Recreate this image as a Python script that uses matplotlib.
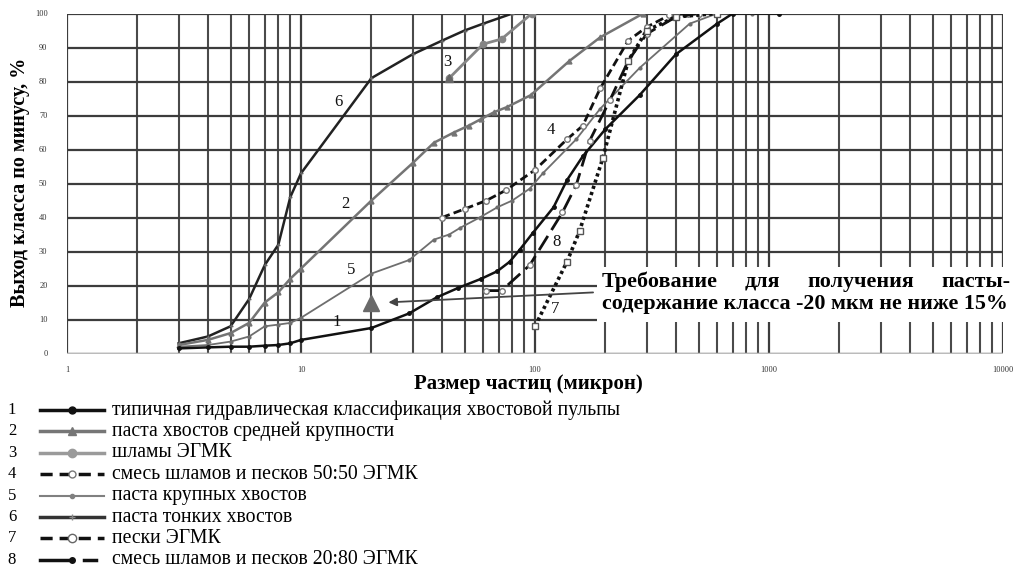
import matplotlib
matplotlib.use("Agg")
import matplotlib.pyplot as plt
from matplotlib.lines import Line2D
from matplotlib.patches import Rectangle
from matplotlib.ticker import LogLocator, FixedLocator, NullFormatter

plt.rcParams['font.family'] = ['Liberation Serif', 'DejaVu Serif']

# particle size (micron) and cumulative passing (%) for each material
size1 = [3, 4, 5, 6, 7, 8, 9, 10, 20, 29, 38, 47, 59, 69, 78, 86, 98, 120, 137, 160, 200, 280, 400, 600, 700, 1100]
pass1 = [1.5, 1.8, 2, 2, 2.3, 2.5, 3, 4, 7.5, 11.8, 16.5, 19.3, 22, 24.2, 27, 30.5, 35.5, 43, 51, 58, 66, 76, 88, 97, 100, 100]

size2 = [3, 4, 5, 6, 7, 8, 9, 10, 20, 30, 37, 45, 52, 59, 67, 76, 96, 140, 190, 290]
pass2 = [2.5, 4, 6, 9, 15, 18, 22, 25, 45, 56, 62, 65, 67, 69, 71, 72.5, 76, 86, 93, 100]

size3 = [43, 60, 72, 97]
pass3 = [81, 91, 92.5, 100]

size4 = [40, 50, 62, 75, 100, 137, 160, 190, 250, 300, 375, 450]
pass4 = [40, 42.5, 45, 48, 54, 63, 67, 78, 92, 96, 99.5, 100]

size5 = [3, 4, 5, 6, 7, 8, 9, 10, 20, 29, 37, 43, 48, 58, 69, 80, 95, 108, 150, 190, 280, 458, 600, 850]
pass5 = [2, 2.5, 3.5, 5, 8, 8.5, 9, 10.5, 23.5, 27.5, 33.5, 35, 37, 40, 43, 45, 48.5, 53, 63, 72, 84, 97, 100, 100]

size6 = [3, 4, 5, 6, 7, 8, 9, 10, 20, 30, 40, 50, 60, 80]
pass6 = [3, 5, 8, 16, 26, 32, 46, 53, 81, 88, 92, 95, 97, 100]

size7 = [100, 137, 155, 195, 250, 300, 400, 600]
pass7 = [8, 27, 36, 57.5, 86, 95, 99, 100]

size8 = [62, 72, 95, 131, 150, 171, 209, 250, 300, 400, 500]
pass8 = [18.5, 18.5, 26, 41.5, 49.5, 62.5, 74.5, 86, 94, 99, 100]

curve_names = [
    "типичная гидравлическая классификация хвостовой пульпы",
    "паста хвостов средней крупности",
    "шламы ЭГМК",
    "смесь шламов и песков 50:50 ЭГМК",
    "паста крупных хвостов",
    "паста тонких хвостов",
    "пески ЭГМК",
    "смесь шламов и песков 20:80 ЭГМК",
]
# where the curve numbers are written (size, passing)
label_size = [14.2, 15.4, 42, 117, 16.4, 14.5, 122, 124]
label_pass = [9.3, 44, 85.7, 65.7, 24.5, 74, 13.1, 32.8]

req_size, req_pass = 20, 15
req_text1 = ["Требование", "для", "получения", "пасты-"]
req_text2 = "содержание класса -20 мкм не ниже 15%"

W, H = 1016, 569
fig = plt.figure(figsize=(W / 100, H / 100), dpi=100)
ax = fig.add_axes([67 / W, 1 - 353.5 / H, (1003 - 67) / W, 340 / H])
ax.set_xscale('log')
ax.set_xlim(1, 10000)
ax.set_ylim(0, 100)

ax.xaxis.set_major_locator(LogLocator(base=10, numticks=10))
ax.xaxis.set_minor_locator(LogLocator(base=10, subs=range(2, 10), numticks=50))
ax.xaxis.set_minor_formatter(NullFormatter())
ax.yaxis.set_major_locator(FixedLocator(range(0, 101, 10)))
ax.grid(True, which='major', color='#3c3c3c', lw=1.6)
ax.grid(True, which='minor', axis='x', color='#4a4a4a', lw=1.5)
ax.set_axisbelow(True)
for s in ax.spines.values():
    s.set_visible(False)
ax.tick_params(which='both', length=0, labelsize=6, colors='#333')
ax.tick_params(axis='y', pad=14)
ax.tick_params(axis='x', pad=9)
ax.xaxis.set_major_formatter(plt.FuncFormatter(lambda v, p: f"{v:g}"))
ax.axhline(0, color='#bbbbbb', lw=2.5, zorder=1)

black = '#111111'
ax.plot(size6, pass6, color='#222222', lw=1.8, marker='+', ms=3, mec='#666', zorder=3)
ax.plot(size2, pass2, color='#747474', lw=1.8, marker='^', ms=3.5, zorder=3)
ax.plot(size5, pass5, color='#6e6e6e', lw=1.3, marker='o', ms=2, zorder=3)
ax.plot(size3, pass3, color='#858585', lw=2, marker='o', ms=4.5, zorder=3)
ax.plot(size3[:1], pass3[:1], color='#666666', marker='^', ms=6, zorder=3)
ax.plot(size1, pass1, color=black, lw=1.8, marker='o', ms=2.5, zorder=4)
ax.plot(size4, pass4, color=black, lw=2, dashes=(3, 1.5), marker='o', ms=4,
        mfc='white', mec='#777', zorder=4)
ax.plot(size8, pass8, color=black, lw=2, dashes=(6, 2.5), marker='o', ms=4,
        mfc='white', mec='#777', zorder=4)
ax.plot(size7, pass7, color=black, lw=2.6, dashes=(0.9, 0.9), marker='s', ms=5,
        mfc='white', mec='#555', zorder=4)

for i, (xs, ys) in enumerate(zip(label_size, label_pass)):
    ax.text(xs, ys, str(i + 1), fontsize=12, ha='center', va='center', color=black, zorder=6)

# requirement: -20 micron class not below 15 %
ax.plot([req_size], [req_pass], marker='^', ms=12, color='#6a6a6a', zorder=5)
ax.annotate('', xy=(23, req_pass), xytext=(182, 18),
            arrowprops=dict(arrowstyle='-|>', color='#444', lw=1.3,
                            mutation_scale=12), zorder=5)

fig.add_artist(Rectangle((597 / W, 1 - 322 / H), (1016 - 597) / W, 55 / H,
                         transform=fig.transFigure, facecolor='white',
                         edgecolor='none', zorder=4))
fs_req = 15.8
x_left, x_right = 602, 1010
t2 = fig.text(x_left / W, 1 - 304 / H, req_text2, fontsize=fs_req, fontweight='bold',
              ha='left', va='center', zorder=6)
renderer = fig.canvas.get_renderer()
words = [fig.text(0, 1 - 282 / H, w, fontsize=fs_req, fontweight='bold',
                  ha='left', va='center', zorder=6) for w in req_text1]
widths = [w.get_window_extent(renderer).width for w in words]
gap = (x_right - x_left - sum(widths)) / (len(words) - 1)
xpos = x_left
for w, wd in zip(words, widths):
    w.set_x(xpos / W)
    xpos += wd + gap

fig.text(20 / W, 1 - 182 / H, "Выход класса по минусу, %", rotation=90,
         fontsize=14.5, fontweight='bold', ha='center', va='center')
fig.text(528 / W, 1 - 384 / H, "Размер частиц (микрон)", fontsize=15,
         fontweight='bold', ha='center', va='center')

# legend rows under the plot
styles = [
    dict(color=black, lw=2.5, marker='o', ms=5),
    dict(color='#767676', lw=2.5, marker='^', ms=6),
    dict(color='#9a9a9a', lw=2.5, marker='o', ms=6),
    dict(color=black, lw=2.5, dashes=(3.5, 2), marker='o', ms=5, mfc='white', mec='#777'),
    dict(color='#808080', lw=1.5, marker='o', ms=3),
    dict(color='#333333', lw=2.5, marker='+', ms=5, mec='#888'),
    dict(color=black, lw=2.5, dashes=(3.5, 2), marker='o', ms=6, mfc='white', mec='#666'),
]
for i, name in enumerate(curve_names):
    yy = 1 - (410 + i * 21.4) / H
    fig.text(12 / W, yy, str(i + 1), fontsize=12, ha='center', va='center')
    if i < 7:
        fig.add_artist(Line2D([40 / W, 72 / W, 104 / W], [yy, yy, yy], markevery=[1],
                              transform=fig.transFigure, **styles[i]))
    else:
        fig.add_artist(Line2D([40 / W, 72 / W], [yy, yy], color=black, lw=2.5,
                              marker='o', ms=4, markevery=[1], transform=fig.transFigure))
        fig.add_artist(Line2D([84 / W, 96 / W], [yy, yy], color=black, lw=2.5,
                              transform=fig.transFigure))
    fig.text(112 / W, yy, name, fontsize=14.2, ha='left', va='center')

fig.savefig("out.png", dpi=100)
